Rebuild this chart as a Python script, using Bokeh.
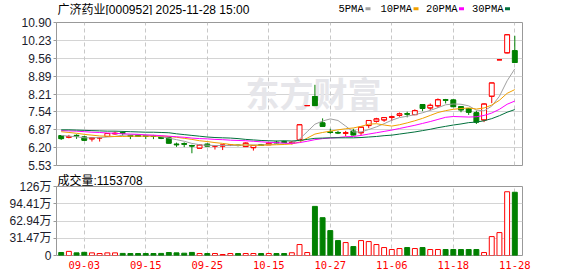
from bokeh.plotting import figure
from bokeh.layouts import column
from bokeh.models import (Range1d, FixedTicker, Grid, Label, ColumnDataSource, Title,
                          PrintfTickFormatter, CustomJSTickFormatter)
from bokeh.core.properties import value
from bokeh.embed import file_html
from bokeh.resources import INLINE

# ---------------- data ----------------
stock_title = "广济药业[000952] 2025-11-28 15:00"

dates = ["08-29",
         "09-01", "09-02", "09-03", "09-04", "09-05",
         "09-08", "09-09", "09-10", "09-11", "09-12",
         "09-15", "09-16", "09-17", "09-18", "09-19",
         "09-22", "09-23", "09-24", "09-25", "09-26",
         "09-29", "09-30", "10-09", "10-10",
         "10-13", "10-14", "10-15", "10-16", "10-17",
         "10-20", "10-21", "10-22", "10-23", "10-24",
         "10-27", "10-28", "10-29", "10-30", "10-31",
         "11-03", "11-04", "11-05", "11-06", "11-07",
         "11-10", "11-11", "11-12", "11-13", "11-14",
         "11-17", "11-18", "11-19", "11-20", "11-21",
         "11-24", "11-25", "11-26", "11-27", "11-28"]

tick_labels = ["09-03", "09-15", "09-25", "10-15", "10-27", "11-06", "11-18", "11-28"]

open_ = [6.65, 6.59, 6.66, 6.60, 6.53, 6.57, 6.62, 6.72, 6.76, 6.66,
         6.66, 6.65, 6.64, 6.59, 6.57, 6.33, 6.35, 6.28, 6.18, 6.33,
         6.26, 6.26, 6.29, 6.29, 6.24, 6.20, 6.31, 6.31, 6.40, 6.42,
         6.37, 6.50, 7.78, 8.12, 7.13, 6.79, 6.77, 6.74, 6.82, 6.76,
         7.03, 7.19, 7.24, 7.34, 7.41, 7.47, 7.44, 7.82, 7.69, 7.77,
         8.00, 7.99, 7.74, 7.66, 7.51, 7.24, 8.13, 9.50, 9.76, 9.84]
high_ = [6.67, 6.68, 6.70, 6.64, 6.58, 6.58, 6.74, 6.80, 6.82, 6.68,
         6.67, 6.68, 6.68, 6.61, 6.58, 6.39, 6.40, 6.31, 6.31, 6.36,
         6.28, 6.31, 6.31, 6.31, 6.40, 6.30, 6.34, 6.38, 6.46, 6.46,
         6.44, 7.06, 7.78, 8.56, 7.30, 6.91, 6.83, 6.83, 6.91, 6.97,
         7.22, 7.32, 7.35, 7.40, 7.52, 7.55, 7.64, 7.83, 7.86, 8.05,
         8.03, 8.01, 7.76, 7.68, 7.59, 7.86, 8.63, 9.50, 10.44, 10.40]
low_ = [6.49, 6.55, 6.53, 6.45, 6.43, 6.43, 6.62, 6.69, 6.65, 6.52,
        6.60, 6.52, 6.52, 6.52, 6.36, 6.23, 6.22, 5.99, 6.18, 6.25,
        6.13, 6.11, 6.26, 6.25, 6.24, 6.09, 6.27, 6.30, 6.35, 6.38,
        6.32, 6.48, 7.78, 7.76, 6.98, 6.72, 6.71, 6.63, 6.66, 6.66,
        6.93, 7.14, 7.17, 7.20, 7.36, 7.34, 7.42, 7.57, 7.60, 7.69,
        7.86, 7.72, 7.53, 7.43, 7.09, 7.16, 7.87, 9.50, 9.74, 9.38]
close_ = [6.54, 6.62, 6.64, 6.48, 6.57, 6.57, 6.73, 6.74, 6.74, 6.62,
          6.62, 6.63, 6.62, 6.55, 6.37, 6.31, 6.33, 6.26, 6.30, 6.26,
          6.27, 6.30, 6.29, 6.28, 6.37, 6.28, 6.29, 6.37, 6.38, 6.40,
          6.40, 7.06, 7.78, 7.78, 7.00, 6.77, 6.75, 6.76, 6.68, 6.97,
          7.22, 7.28, 7.33, 7.36, 7.47, 7.46, 7.59, 7.67, 7.79, 8.00,
          7.98, 7.74, 7.62, 7.53, 7.16, 7.84, 8.63, 9.50, 10.44, 9.40]

ma5 = [6.66, 6.63, 6.61, 6.57, 6.57, 6.58, 6.60, 6.62, 6.67, 6.68,
       6.69, 6.67, 6.65, 6.61, 6.56, 6.50, 6.44, 6.36, 6.31, 6.29,
       6.28, 6.28, 6.28, 6.28, 6.30, 6.30, 6.30, 6.32, 6.34, 6.34,
       6.37, 6.52, 6.80, 7.08, 7.20, 7.28, 7.22, 7.01, 6.79, 6.79,
       6.88, 6.98, 7.10, 7.23, 7.33, 7.38, 7.44, 7.51, 7.60, 7.70,
       7.81, 7.84, 7.83, 7.77, 7.61, 7.58, 7.76, 8.13, 8.71, 9.16]
ma10 = [6.80, 6.77, 6.74, 6.70, 6.67, 6.64, 6.63, 6.62, 6.62, 6.63,
        6.63, 6.63, 6.63, 6.64, 6.62, 6.59, 6.55, 6.51, 6.46, 6.43,
        6.39, 6.36, 6.32, 6.30, 6.30, 6.29, 6.29, 6.30, 6.31, 6.32,
        6.34, 6.41, 6.56, 6.71, 6.77, 6.82, 6.87, 6.91, 6.94, 7.00,
        7.08, 7.10, 7.05, 7.01, 7.06, 7.13, 7.21, 7.30, 7.41, 7.52,
        7.59, 7.64, 7.67, 7.69, 7.65, 7.69, 7.80, 7.98, 8.24, 8.38]
ma20 = [6.84, 6.83, 6.82, 6.80, 6.78, 6.77, 6.75, 6.74, 6.72, 6.71,
        6.70, 6.68, 6.67, 6.65, 6.63, 6.61, 6.59, 6.56, 6.54, 6.53,
        6.51, 6.50, 6.48, 6.47, 6.46, 6.44, 6.42, 6.40, 6.39, 6.37,
        6.36, 6.39, 6.44, 6.50, 6.54, 6.56, 6.58, 6.61, 6.62, 6.66,
        6.71, 6.76, 6.81, 6.86, 6.92, 6.98, 7.04, 7.11, 7.18, 7.26,
        7.34, 7.37, 7.36, 7.35, 7.36, 7.41, 7.50, 7.64, 7.83, 7.95]
ma30 = [6.87, 6.87, 6.86, 6.85, 6.84, 6.83, 6.82, 6.82, 6.81, 6.80,
        6.79, 6.78, 6.78, 6.77, 6.76, 6.72, 6.69, 6.66, 6.63, 6.60,
        6.58, 6.57, 6.56, 6.54, 6.51, 6.49, 6.47, 6.46, 6.45, 6.46,
        6.45, 6.47, 6.51, 6.55, 6.56, 6.57, 6.57, 6.57, 6.57, 6.58,
        6.60, 6.62, 6.65, 6.67, 6.71, 6.75, 6.79, 6.84, 6.89, 6.95,
        7.00, 7.05, 7.09, 7.14, 7.16, 7.21, 7.29, 7.40, 7.53, 7.63]

# volume in units of 万
volume = [5.5, 7.5, 4.8, 5.8, 4.8, 3.6, 4.8, 4.8, 3.8, 3.6,
          3.6, 3.6, 3.6, 3.8, 5.4, 4.8, 4.2, 5.6, 3.6, 3.6,
          3.6, 1.8, 3.6, 3.6, 3.6, 3.6, 3.6, 3.6, 3.6, 3.6,
          5.0, 20.0, 5.4, 89.6, 69.0, 45.4, 27.2, 23.6, 16.3, 27.2,
          25.4, 20.0, 14.5, 10.9, 12.7, 14.5, 12.7, 14.5, 10.9, 10.9,
          10.9, 10.9, 10.9, 10.9, 10.9, 5.4, 34.5, 41.8, 116.3, 115.3708]

price_ticks = [5.53, 6.20, 6.87, 7.54, 8.21, 8.89, 9.56, 10.23, 10.90]
volume_ticks = [0, 31.47, 62.94, 94.41, 125.88]

ma_names = ["5PMA", "10PMA", "20PMA", "30PMA"]

# ---------------- styling ----------------
RED = "#ff0000"
GREEN = "#008000"
MA_COLORS = ["#a0a0a0", "#f0a000", "#ff00ff", "#00703c"]
GRID = "#d4d4d4"
VGRID = "#c8c8c8"
BORDER = "#999999"
MIXED = "Liberation Sans, Noto Sans CJK SC"
W = 578
FL, FR = 56, 522          # frame left / right in pixels

n = len(close_)
idx = list(range(n))
up = [c >= o for o, c in zip(open_, close_)]
col = [RED if u else GREEN for u in up]
fill = ["white" if u else GREEN for u in up]
BW = 0.64
src = ColumnDataSource(dict(
    x=idx, h=high_, l=low_,
    top=[max(o, c) for o, c in zip(open_, close_)],
    bot=[min(o, c) for o, c in zip(open_, close_)],
    xl=[i - BW / 2 for i in idx], xr=[i + BW / 2 for i in idx],
    col=col, fill=fill, vol=volume,
))

tick_idx = [dates.index(t) for t in tick_labels]
xr = Range1d(-0.61, 60.0)

# ---------------- header strip (title + MA legend) ----------------
HS = 15
hdr = figure(width=W, height=HS, x_range=Range1d(FL, FR), y_range=Range1d(0, HS),
             output_backend="svg", toolbar_location=None, title=None,
             x_axis_type=None, y_axis_type=None, min_border=0,
             min_border_left=FL, min_border_right=W - FR)
hdr.outline_line_color = None
hdr.grid.visible = False
hdr.text(x=[57], y=[HS - 9], text=[stock_title], text_font=value(MIXED),
         text_font_size="12px", text_color="#000000", text_baseline="middle")
leg_x = [338, 380, 425.5, 471.5]
mk_x = [lx + 6 * len(nm) + 5.5 for lx, nm in zip(leg_x, ma_names)]
hdr.text(x=leg_x, y=[HS - 8.5] * 4, text=ma_names, text_font=value("Liberation Mono"),
         text_font_size="10.5px", text_color="#000000", text_baseline="middle")
hdr.rect(x=mk_x, y=[HS - 8.3] * 4, width=5, height=3, fill_color=MA_COLORS,
         line_color=None)

# ---------------- price panel ----------------
p = figure(width=W, height=157, x_range=xr, y_range=Range1d(price_ticks[0], price_ticks[-1]),
           output_backend="svg", toolbar_location=None, x_axis_type=None, title=None,
           min_border_left=FL, min_border_right=W - FR, min_border_top=7, min_border_bottom=7)
p.outline_line_color = BORDER
p.yaxis.ticker = FixedTicker(ticks=price_ticks)
p.yaxis.formatter = PrintfTickFormatter(format="%.2f")
p.yaxis.major_label_text_font = "Liberation Sans"
p.yaxis.major_label_text_font_size = "12px"
p.yaxis.major_label_text_color = "#1c1c2c"
p.yaxis.axis_line_color = None
p.yaxis.major_tick_line_color = BORDER
p.yaxis.major_tick_out = 3
p.yaxis.major_tick_in = 0
p.yaxis.minor_tick_line_color = None
p.yaxis.major_label_standoff = 2
p.ygrid.grid_line_color = GRID
p.add_layout(Grid(dimension=0, ticker=FixedTicker(ticks=tick_idx),
                  grid_line_color=VGRID, grid_line_dash="4 3"))

p.add_layout(Label(x=189, y=73, x_units="screen", y_units="screen", text="东方财富",
                   text_font="Noto Sans CJK SC", text_font_size="34px", text_font_style="bold",
                   text_color="#e6e6ea", text_baseline="middle", level="underlay"))

p.segment(x0="x", y0="h", x1="x", y1="l", line_color="col", line_width=1, source=src)
p.vbar(x="x", width=BW, top="top", bottom="bot", fill_color="fill", line_color="col",
       line_width=1, source=src)
p.segment(x0="xl", y0="top", x1="xr", y1="top", line_color="col", line_width=1, source=src)
p.segment(x0="xl", y0="bot", x1="xr", y1="bot", line_color="col", line_width=1, source=src)

for series, c in zip([ma5, ma10, ma20, ma30], MA_COLORS):
    p.line(idx, series, line_color=c, line_width=1)

# ---------------- volume panel ----------------
vol_text = "成交量:" + str(int(round(volume[-1] * 10000)))
v = figure(width=W, height=104, x_range=xr, y_range=Range1d(volume_ticks[0], volume_ticks[-1]),
           output_backend="svg", toolbar_location=None,
           min_border_left=FL, min_border_right=W - FR, min_border_top=14, min_border_bottom=21)
v.title = Title(text=vol_text, align="left", offset=1, standoff=-2, text_font=MIXED,
                text_font_size="12px", text_font_style="normal", text_color="#000000")
v.outline_line_color = BORDER
v.yaxis.ticker = FixedTicker(ticks=volume_ticks)
v.yaxis.formatter = CustomJSTickFormatter(code="""
    if (tick == 0) return "0";
    if (tick >= 100) return tick.toFixed(0) + "万";
    return tick.toFixed(2) + "万";
""")
v.yaxis.major_label_text_font = MIXED
v.yaxis.major_label_text_font_size = "12px"
v.yaxis.major_label_text_color = "#1c1c2c"
v.yaxis.axis_line_color = None
v.yaxis.major_tick_line_color = BORDER
v.yaxis.major_tick_out = 3
v.yaxis.major_tick_in = 0
v.yaxis.minor_tick_line_color = None
v.yaxis.major_label_standoff = 2
v.ygrid.grid_line_color = GRID

v.xaxis.ticker = FixedTicker(ticks=tick_idx)
v.xaxis.major_label_overrides = {i: t for i, t in zip(tick_idx, tick_labels)}
v.xaxis.major_label_text_font = "DejaVu Sans Mono"
v.xaxis.major_label_text_font_size = "10.5px"
v.xaxis.major_label_text_color = RED
v.xaxis.axis_line_color = None
v.xaxis.major_tick_line_color = None
v.xaxis.minor_tick_line_color = None
v.xaxis.major_tick_out = 0
v.xaxis.major_label_standoff = 5
v.xgrid.grid_line_color = VGRID
v.xgrid.grid_line_dash = "4 3"

v.vbar(x="x", width=BW, top="vol", bottom=0, fill_color="fill", line_color="col",
       line_width=1, source=src)

layout = column(hdr, p, v, spacing=0)
open("out.html", "w").write(file_html(layout, INLINE))
